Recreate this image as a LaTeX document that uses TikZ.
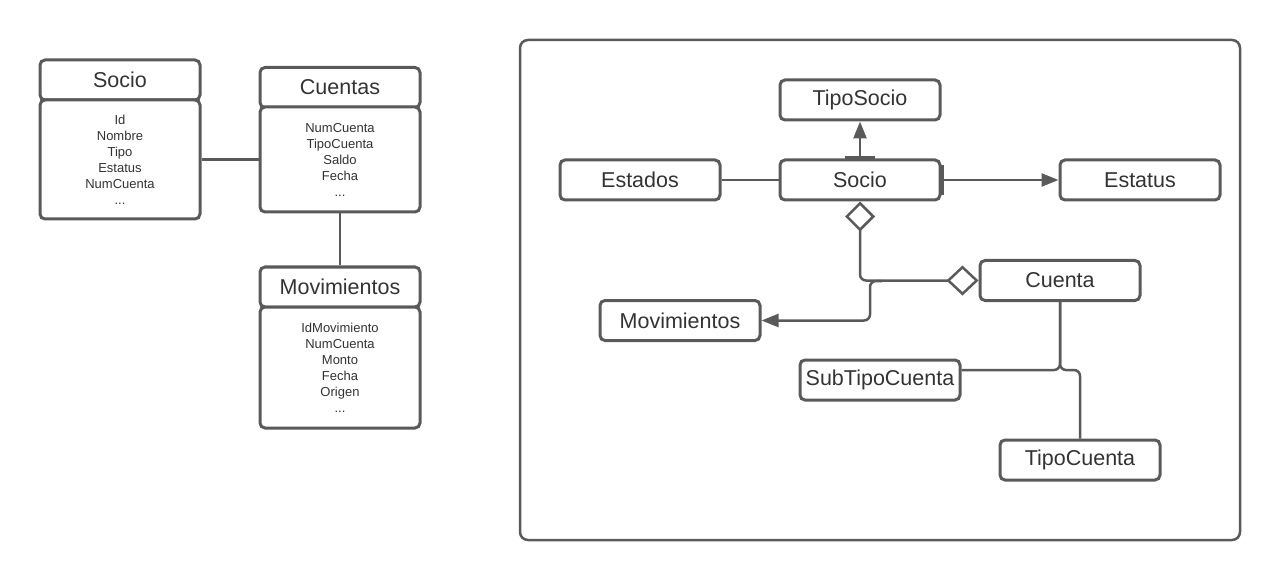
\documentclass[tikz,border=0pt]{standalone}
\usepackage{fontspec}
\setmainfont{Liberation Sans}
\usetikzlibrary{arrows.meta}
\definecolor{linegray}{HTML}{5A5A5A}
\definecolor{textgray}{HTML}{333333}

\begin{document}
\begin{tikzpicture}[x=1pt, y=-1pt,
    box/.style={draw=linegray, line width=3pt, rounded corners=5pt, fill=white, text=textgray,
        minimum width=160pt, minimum height=40pt, inner sep=0pt, font=\fontsize{21.5}{25}\selectfont},
    fields/.style={box, align=center, font=\fontsize{13}{16}\selectfont},
    conn/.style={draw=linegray, line width=2.5pt},
    tri/.style={-{Triangle[length=17pt,width=13pt]}},
    agg/.style={{Diamond[open,length=30pt,width=30pt]}-{Diamond[open,length=32pt,width=30pt]}}
]

    \useasboundingbox (0,0) rectangle (1280,580);

    % left: tables
    \node[box] (socioh) at (120,80) {Socio};
    \node[fields, minimum height=119pt] (sociob) at (120,159.5) {Id\\Nombre\\Tipo\\Estatus\\NumCuenta\\...};
    \node[box] (cuentash) at (340,87.5) {Cuentas};
    \node[fields, minimum height=105pt] (cuentasb) at (340,159.5) {NumCuenta\\TipoCuenta\\Saldo\\Fecha\\...};
    \node[box] (movh) at (340,287) {Movimientos};
    \node[fields, minimum height=121pt] (movb) at (340,367.5) {IdMovimiento\\NumCuenta\\Monto\\Fecha\\Origen\\...};

    \draw[conn] (sociob.east) -- (cuentasb.west);
    \draw[conn] (cuentasb.south) -- (movh.north);

    % right: frame
    \draw[linegray, line width=2.5pt, rounded corners=8pt] (520,40) rectangle (1240,540);

    \node[box] (tiposocio) at (860,100) {TipoSocio};
    \node[box] (socio) at (860,180) {Socio};
    \node[box] (estados) at (640,180) {Estados};
    \node[box] (estatus) at (1140,180) {Estatus};
    \node[box] (cuenta) at (1060,280.5) {Cuenta};
    \node[box] (movimientos) at (680,320.5) {Movimientos};
    \node[box] (subtipo) at (880,380) {SubTipoCuenta};
    \node[box] (tipocuenta) at (1080,460) {TipoCuenta};

    \coordinate (aggbend) at (860,281);
    \coordinate (mvfork) at (882,281);
    \coordinate (ctfork) at (1060,370);

    \draw[conn, tri] (socio.north) -- (tiposocio.south);
    \draw[linegray, line width=4pt] ([xshift=-15pt]socio.north) -- ([xshift=15pt]socio.north);
    \draw[conn] (estados.east) -- (socio.west);
    \draw[conn, tri] (socio.east) -- (estatus.west);
    \draw[linegray, line width=4pt] ([yshift=-15pt]socio.east) -- ([yshift=15pt]socio.east);

    \draw[conn, agg, rounded corners=6pt] (socio.south) |- (cuenta.west);
    \draw[conn, tri, rounded corners=6pt] (mvfork) -| (870,320.5) -- (movimientos.east);

    \draw[conn, rounded corners=6pt] (cuenta.south) |- ([yshift=10pt]subtipo.east);
    \draw[conn, rounded corners=6pt] (cuenta.south) |- (tipocuenta.north |- ctfork) -- (tipocuenta.north);

\end{tikzpicture}
\end{document}
